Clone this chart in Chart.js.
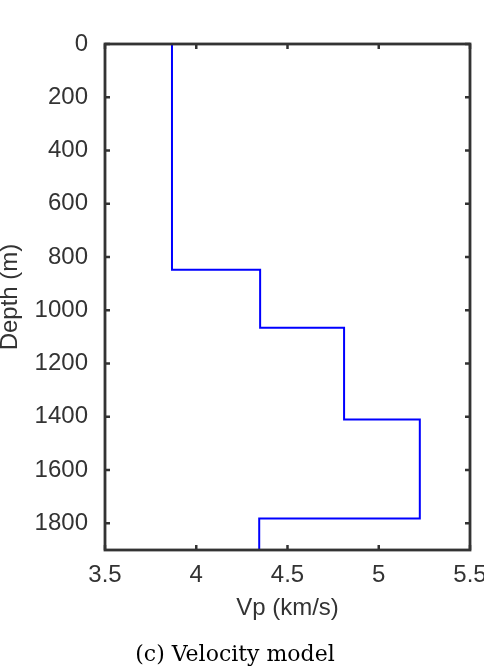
<!DOCTYPE html>
<html>
<head>
<meta charset="utf-8">
<script src="https://cdn.jsdelivr.net/npm/chart.js@4/dist/chart.umd.min.js"></script>
<style>
  html, body { margin: 0; padding: 0; background: #fff; }
  #wrap { width: 484px; height: 668px; }
</style>
</head>
<body>
<div id="wrap"><canvas id="c" width="484" height="668"></canvas></div>
<script>
// Layered velocity model
const layerVelocity = [3.867, 4.35, 4.81, 5.225, 4.345];   // Vp, km/s
const layerTopDepth = [0, 848, 1065, 1410, 1782];          // m
const modelBottomDepth = 1900;                             // m
const xTicks = [3.5, 4, 4.5, 5, 5.5];
const yTicks = [0, 200, 400, 600, 800, 1000, 1200, 1400, 1600, 1800];

const xLabel = 'Vp (km/s)';
const yLabel = 'Depth (m)';
const caption = '(c) Velocity model';

// Step profile built from the layer arrays
const profile = [];
for (let i = 0; i < layerVelocity.length; i++) {
  const top = layerTopDepth[i];
  const bottom = i + 1 < layerTopDepth.length ? layerTopDepth[i + 1] : modelBottomDepth;
  profile.push({ x: layerVelocity[i], y: top });
  profile.push({ x: layerVelocity[i], y: bottom });
}

const AXIS = '#333333';
const TXT = '#333333';

const boxPlugin = {
  id: 'boxPlugin',
  afterDatasetsDraw(chart) {
    const { ctx, chartArea: a, scales: { x, y } } = chart;
    ctx.save();
    ctx.strokeStyle = AXIS;
    ctx.lineWidth = 2.5;
    ctx.lineCap = 'butt';
    const tl = 5;
    ctx.beginPath();
    xTicks.forEach(v => {
      const px = x.getPixelForValue(v);
      ctx.moveTo(px, a.bottom); ctx.lineTo(px, a.bottom - tl);
      ctx.moveTo(px, a.top); ctx.lineTo(px, a.top + tl);
    });
    yTicks.forEach(v => {
      const py = y.getPixelForValue(v);
      ctx.moveTo(a.left, py); ctx.lineTo(a.left + tl, py);
      ctx.moveTo(a.right, py); ctx.lineTo(a.right - tl, py);
    });
    ctx.stroke();
    ctx.lineWidth = 2.8;
    ctx.strokeRect(a.left, a.top, a.right - a.left, a.bottom - a.top);
    ctx.restore();
  }
};

new Chart(document.getElementById('c'), {
  type: 'scatter',
  data: {
    datasets: [{
      label: 'Vp',
      data: profile,
      showLine: true,
      borderColor: '#0000ff',
      borderWidth: 2,
      pointRadius: 0,
      fill: false,
      tension: 0
    }]
  },
  options: {
    responsive: false,
    animation: false,
    devicePixelRatio: 1,
    layout: { padding: { top: 44, right: 14, left: 0, bottom: 0 } },
    plugins: {
      legend: { display: false },
      tooltip: { enabled: false },
      title: {
        display: true,
        position: 'bottom',
        text: caption,
        color: '#000',
        font: { family: 'DejaVu Serif', size: 22, weight: 'normal', lineHeight: 1.2 },
        padding: { top: 0, bottom: 0 }
      }
    },
    scales: {
      x: {
        type: 'linear',
        position: 'bottom',
        min: 3.5, max: 5.5,
        afterBuildTicks(s) { s.ticks = xTicks.map(v => ({ value: v })); },
        afterFit(s) { s.height = 91.6; s.paddingLeft = 0; s.paddingRight = 0; },
        grid: { display: false, drawTicks: false },
        border: { display: false },
        ticks: {
          color: TXT,
          padding: 11,
          maxRotation: 0,
          font: { family: 'Liberation Sans', size: 24 },
          callback: v => String(v)
        },
        title: {
          display: true,
          text: xLabel,
          color: TXT,
          font: { family: 'Liberation Sans', size: 24, lineHeight: 1.2 },
          padding: { top: 0, bottom: 19 }
        }
      },
      y: {
        type: 'linear',
        position: 'left',
        min: 0, max: 1900,
        reverse: true,
        afterBuildTicks(s) { s.ticks = yTicks.map(v => ({ value: v })); },
        afterFit(s) { s.width = 105; s.paddingTop = 0; s.paddingBottom = 0; },
        grid: { display: false, drawTicks: false },
        border: { display: false },
        ticks: {
          color: TXT,
          padding: 17,
          font: { family: 'Liberation Sans', size: 24 },
          callback: v => String(v)
        },
        title: {
          display: true,
          text: yLabel,
          color: TXT,
          font: { family: 'Liberation Sans', size: 24, lineHeight: 1.0 },
          padding: { top: -2, bottom: 0 }
        }
      }
    }
  },
  plugins: [boxPlugin]
});
</script>
</body>
</html>
